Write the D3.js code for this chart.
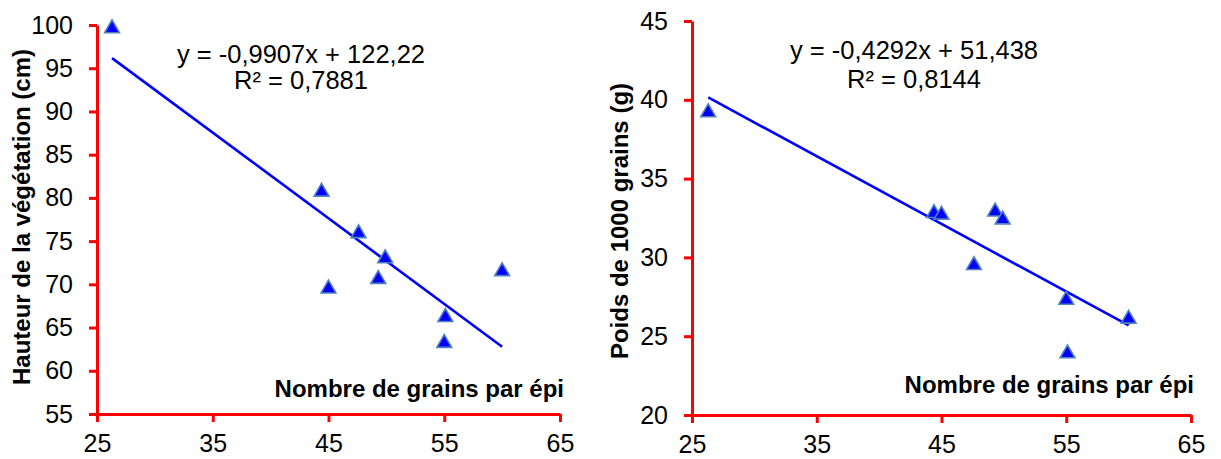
<!DOCTYPE html>
<html>
<head>
<meta charset="utf-8">
<script src="https://cdn.jsdelivr.net/npm/d3@7"></script>
<style>
  html, body { margin: 0; padding: 0; background: #fff; }
  svg { display: block; }
  text { font-family: "Liberation Sans", Arial, sans-serif; fill: #000; }
</style>
</head>
<body>
<svg id="chart" width="1221" height="459"></svg>
<script>
// Number of grains per ear (shared x values of both panels)
const grains = [26.3, 44.4, 45.0, 47.6, 49.3, 49.9, 55.0, 55.1, 60.0];
// Vegetation height (cm)
const hauteur = [99.6, 80.7, 69.5, 75.9, 70.6, 73.0, 63.2, 66.2, 71.5];
// Thousand-grain weight (g)
const poids = [39.2, 32.8, 32.7, 29.5, 32.9, 32.4, 27.3, 23.9, 26.1];

// Linear trend lines
const slopes = [-0.9907, -0.4292];
const intercepts = [122.22, 51.438];
const equations = ["y = -0,9907x + 122,22", "y = -0,4292x + 51,438"];
const r2Labels = ["R² = 0,7881", "R² = 0,8144"];

// Axis ticks
const xTicks = [25, 35, 45, 55, 65];
const yTicksHauteur = [55, 60, 65, 70, 75, 80, 85, 90, 95, 100];
const yTicksPoids = [20, 25, 30, 35, 40, 45];

const xTitle = "Nombre de grains par épi";
const yTitles = ["Hauteur de la végétation (cm)", "Poids de 1000 grains (g)"];

const svg = d3.select("#chart");

const panels = [
  {
    ys: hauteur, yTicks: yTicksHauteur, yDomain: [55, 100],
    x0: 97, x1: 560, yBottom: 414, yTop: 25,
    slope: slopes[0], intercept: intercepts[0],
    eq: equations[0], r2: r2Labels[0], eqX: 301, eqY: [63, 89],
    yTitle: yTitles[0], yTitleX: 30, yTitleY: 217, xTitleEnd: 564, xTitleY: 397
  },
  {
    ys: poids, yTicks: yTicksPoids, yDomain: [20, 45],
    x0: 692, x1: 1191, yBottom: 415, yTop: 21,
    slope: slopes[1], intercept: intercepts[1],
    eq: equations[1], r2: r2Labels[1], eqX: 914, eqY: [59, 88],
    yTitle: yTitles[1], yTitleX: 628, yTitleY: 221, xTitleEnd: 1194, xTitleY: 393
  }
];

const red = "#ff0000";

panels.forEach(p => {
  const x = d3.scaleLinear().domain([25, 65]).range([p.x0, p.x1]);
  const y = d3.scaleLinear().domain(p.yDomain).range([p.yBottom, p.yTop]);
  const g = svg.append("g");

  // Y axis
  const yAxis = g.append("g")
    .attr("transform", `translate(${p.x0},0)`)
    .call(d3.axisLeft(y).tickValues(p.yTicks).tickSize(8).tickSizeOuter(0).tickPadding(16)
      .tickFormat(d3.format("d")));
  // X axis
  const xAxis = g.append("g")
    .attr("transform", `translate(0,${p.yBottom})`)
    .call(d3.axisBottom(x).tickValues(xTicks).tickSize(8).tickSizeOuter(0).tickPadding(12)
      .tickFormat(d3.format("d")));

  [yAxis, xAxis].forEach(a => {
    a.select(".domain").attr("stroke", red).attr("stroke-width", 3);
    a.selectAll(".tick line").attr("stroke", red).attr("stroke-width", 3);
    a.selectAll(".tick text")
      .style("font-family", '"Liberation Sans", Arial, sans-serif')
      .style("font-size", "25px").attr("fill", "#000");
  });

  // Trend line over the observed x range
  const [xmin, xmax] = d3.extent(grains);
  g.append("line")
    .attr("x1", x(xmin)).attr("y1", y(p.slope * xmin + p.intercept))
    .attr("x2", x(xmax)).attr("y2", y(p.slope * xmax + p.intercept))
    .attr("stroke", "#0000ff").attr("stroke-width", 2.6);

  // Observations
  g.selectAll("path.pt")
    .data(grains.map((gx, i) => [gx, p.ys[i]]))
    .join("path")
    .attr("class", "pt")
    .attr("transform", d => `translate(${x(d[0])},${y(d[1])})`)
    .attr("d", d3.symbol(d3.symbolTriangle, 95))
    .attr("fill", "#0000ff")
    .attr("stroke", "#4f81bd")
    .attr("stroke-width", 1.6);

  // Equation and R²
  g.append("text").attr("x", p.eqX).attr("y", p.eqY[0])
    .attr("text-anchor", "middle").style("font-size", "25.5px").text(p.eq);
  g.append("text").attr("x", p.eqX).attr("y", p.eqY[1])
    .attr("text-anchor", "middle").style("font-size", "25.5px").text(p.r2);

  // Axis titles
  g.append("text")
    .attr("transform", `translate(${p.yTitleX},${p.yTitleY}) rotate(-90)`)
    .attr("text-anchor", "middle")
    .style("font-size", "24px").style("font-weight", "bold")
    .text(p.yTitle);
  g.append("text")
    .attr("x", p.xTitleEnd).attr("y", p.xTitleY)
    .attr("text-anchor", "end")
    .style("font-size", "24px").style("font-weight", "bold")
    .text(xTitle);
});
</script>
</body>
</html>
